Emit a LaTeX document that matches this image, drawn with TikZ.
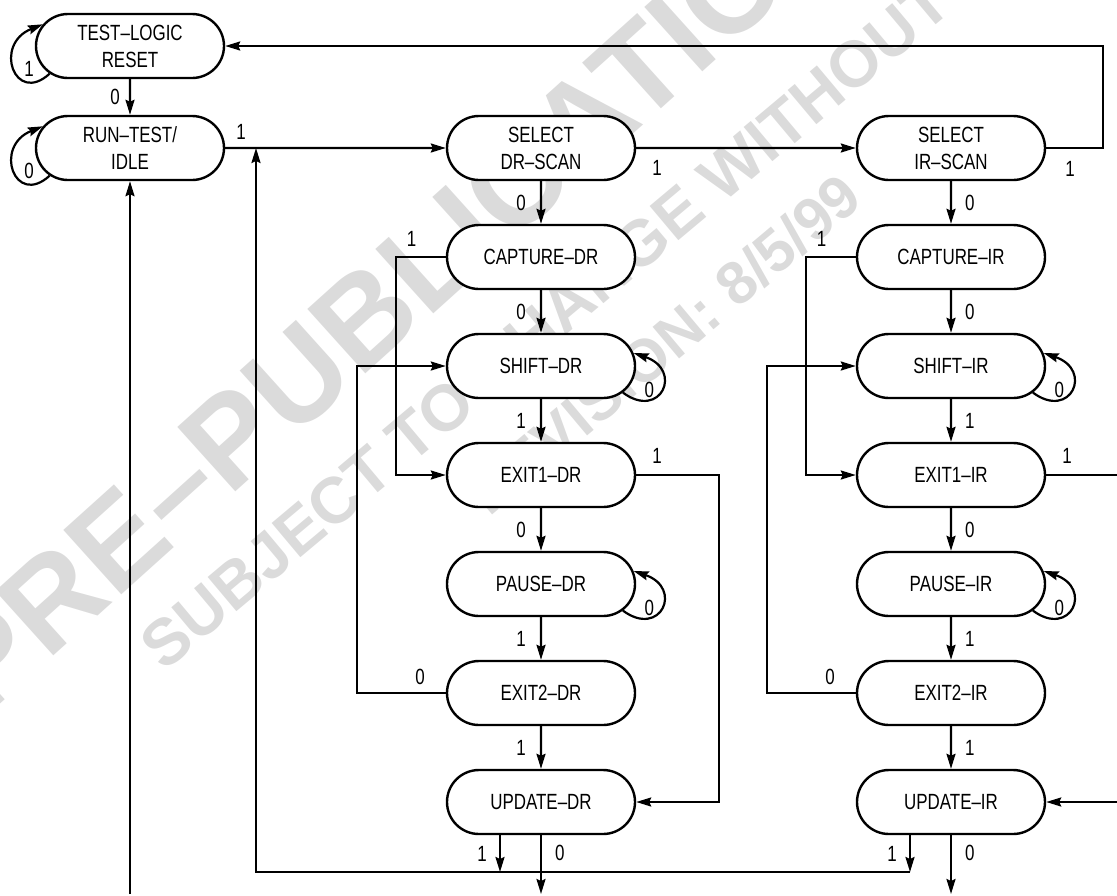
\documentclass[tikz,border=0pt]{standalone}
\usepackage{fontspec}
\newfontfamily\tapfont[FakeStretch=0.77]{Liberation Sans}
\newfontfamily\wmfont{Liberation Sans}
\usetikzlibrary{arrows.meta,positioning,shapes.misc}
\tikzset{
  st/.style={rounded rectangle,draw,line width=2.4pt,fill=white,minimum width=188pt,
    minimum height=64pt,inner sep=0pt,align=center},
  arr/.style={line width=2.2pt,-{Stealth[length=15pt,width=9pt,inset=2pt]}},
  lbl/.style={inner sep=0pt},
  wm/.style={text=black!14},
}
\begin{document}
\begin{tikzpicture}[x=1pt,y=-1pt,font=\tapfont\fontsize{22}{27}\selectfont]
  \clip (0,0) rectangle (1117,895);
  % watermark
  \node[wm,font=\wmfont\bfseries\fontsize{126}{126}\selectfont,rotate=42] (wma) at (395,290) {PRE–PUBLICATION};
  \node[wm,font=\wmfont\bfseries\fontsize{65}{65}\selectfont,rotate=40] (wmb) at (646,239) {SUBJECT TO CHANGE WITHOUT NOTICE};
  \node[wm,font=\wmfont\bfseries\fontsize{60}{60}\selectfont,rotate=40] (wmc) at (664,344) {REVISION: 8/5/99};
  % states
  \node[st] (reset) at (130,46) {TEST–LOGIC\\RESET};
  \node[st] (idle) at (130,148) {RUN–TEST/\\IDLE};
  \foreach \col/\x in {DR/541,IR/951}{
    \node[st] (sel\col) at (\x,148) {SELECT\\\col–SCAN};
    \node[st] (cap\col) at (\x,257) {CAPTURE–\col};
    \node[st] (sh\col) at (\x,366) {SHIFT–\col};
    \node[st] (ex1\col) at (\x,475) {EXIT1–\col};
    \node[st] (pa\col) at (\x,584) {PAUSE–\col};
    \node[st] (ex2\col) at (\x,693) {EXIT2–\col};
    \node[st] (up\col) at (\x,802) {UPDATE–\col};
  }
  \coordinate (bus) at (256,872);
  \coordinate (out) at (130,894);
  % transitions
  \draw[arr] (reset) -- node[lbl,left=9pt] {0} (idle);
  \draw[arr] (idle) -- node[lbl,pos=0,above right=7pt and 10pt] {1} (selDR);
  \draw[arr] (selDR) -- node[lbl,pos=0,below right=11pt and 15pt] {1} (selIR);
  \draw[arr] (selIR.east) node[lbl,below right=12pt and 18pt] {1} -- ++(57,0) |- (reset);
  \draw[arr] (reset.199) .. controls +(-35,32) and +(-50,20) .. (reset.166) node[lbl,pos=.5,right=9pt] {1};
  \draw[arr] (idle.199) .. controls +(-35,32) and +(-50,20) .. (idle.166) node[lbl,pos=.5,right=9pt] {0};
  \foreach \col/\an/\dx in {DR/east/-14pt,IR/west/13pt}{
    \foreach \a/\b/\v in {sel/cap/0,cap/sh/0,sh/ex1/1,ex1/pa/0,pa/ex2/1,ex2/up/1}
      \draw[arr] (\a\col) -- node[lbl,anchor=\an,xshift=\dx] {\v} (\b\col);
    \draw[arr] (sh\col.-18) .. controls +(38,28) and +(50,17) .. (sh\col.8) node[lbl,pos=.5,left=6pt] {0};
    \draw[arr] (pa\col.-18) .. controls +(38,28) and +(50,17) .. (pa\col.8) node[lbl,pos=.5,left=6pt] {0};
    \draw[arr] (cap\col.west) -- ++(-50,0) node[lbl,above right=9pt and 10pt] {1} |- (ex1\col);
    \draw[arr] (ex2\col.west) node[lbl,above left=7pt and 20pt] {0} -- ++(-89,0) |- (sh\col);
    \draw[arr] (ex1\col.east) node[lbl,above right=10pt and 15pt] {1} -- ++(83,0) |- (up\col);
    \draw[arr] ([xshift=-41pt]up\col.south) coordinate (t\col) -- (t\col |- bus) node[lbl,midway,left=12pt] {1};
    \draw[arr] (up\col) -- (up\col |- out) node[lbl,pos=.3,right=13pt] {0};
  }
  \draw[arr] (tIR |- bus) -- (bus) -- (bus |- idle);
  \draw[arr] (idle |- out) -- (idle);
\end{tikzpicture}
\end{document}
